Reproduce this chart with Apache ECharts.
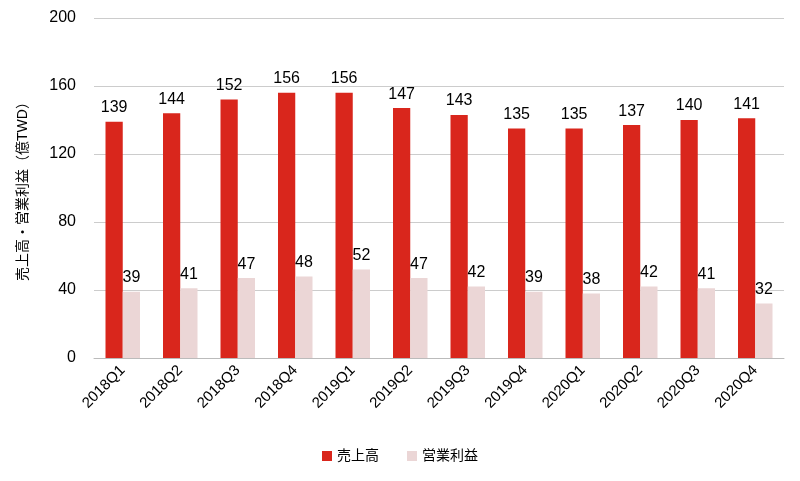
<!DOCTYPE html>
<html>
<head>
<meta charset="utf-8">
<script src="https://cdn.jsdelivr.net/npm/echarts@6/dist/echarts.min.js"></script>
<style>html,body{margin:0;padding:0;background:#fff}#chart{width:800px;height:481px}</style>
</head>
<body>
<div id="chart"></div>
<script>
const categories = ['2018Q1','2018Q2','2018Q3','2018Q4','2019Q1','2019Q2','2019Q3','2019Q4','2020Q1','2020Q2','2020Q3','2020Q4'];
const sales = [139,144,152,156,156,147,143,135,135,137,140,141];
const operatingProfit = [39,41,47,48,52,47,42,39,38,42,41,32];
const yTicks = { min: 0, max: 200, interval: 40 };

const font = '"Liberation Sans", "Noto Sans CJK JP", sans-serif';
const chart = echarts.init(document.getElementById('chart'));
chart.setOption({
  animation: false,
  textStyle: { fontFamily: font },
  grid: { left: 94, right: 16, top: 18, bottom: 123 },
  legend: {
    bottom: 13,
    itemWidth: 10, itemHeight: 10, itemGap: 28,
    icon: 'rect',
    textStyle: { fontSize: 14, color: '#000', fontFamily: font },
    data: ['売上高', '営業利益']
  },
  xAxis: {
    type: 'category',
    data: categories,
    axisLine: { lineStyle: { color: '#bbb' } },
    axisTick: { show: false },
    axisLabel: { rotate: 45, fontSize: 15, color: '#000', margin: 10 }
  },
  yAxis: {
    type: 'value',
    ...yTicks,
    name: '売上高・営業利益（億TWD）',
    nameLocation: 'middle',
    nameGap: 64,
    nameTextStyle: { fontSize: 14, color: '#000' },
    axisLabel: { fontSize: 16, color: '#000', margin: 18 },
    splitLine: { lineStyle: { color: '#ccc' } },
    axisLine: { show: false },
    axisTick: { show: false }
  },
  series: [
    {
      name: '売上高', type: 'bar', data: sales,
      barGap: 0, barCategoryGap: '40%',
      itemStyle: { color: '#d9261c' },
      label: { show: true, position: 'top', fontSize: 16, color: '#000', distance: 6 }
    },
    {
      name: '営業利益', type: 'bar', data: operatingProfit,
      itemStyle: { color: '#ebd6d6' },
      label: { show: true, position: 'top', fontSize: 16, color: '#000', distance: 6 }
    }
  ]
});
</script>
</body>
</html>
